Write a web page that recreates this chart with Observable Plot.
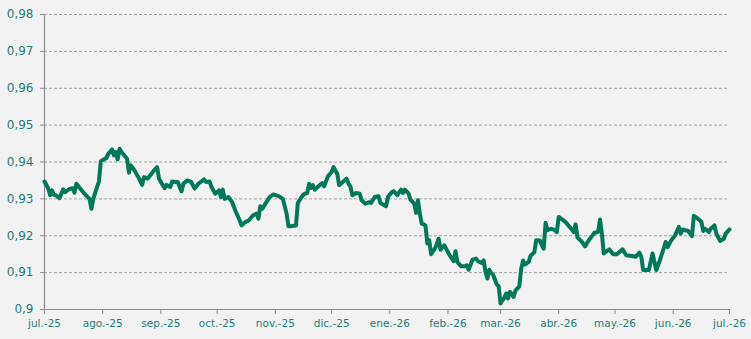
<!DOCTYPE html>
<html>
<head>
<meta charset="utf-8">
<script src="https://cdn.jsdelivr.net/npm/d3@7"></script>
<script src="https://cdn.jsdelivr.net/npm/@observablehq/plot@0.6"></script>
<style>
  html, body { margin: 0; padding: 0; background: #f2f2f2; }
  #chart svg { display: block; }
</style>
</head>
<body>
<div id="chart"></div>
<script>
const dates = [
  "2025-07-01","2025-07-03","2025-07-04","2025-07-05","2025-07-06","2025-07-07","2025-07-09","2025-07-11","2025-07-12","2025-07-14",
  "2025-07-16","2025-07-17","2025-07-18","2025-07-20","2025-07-23","2025-07-25","2025-07-26","2025-07-27","2025-07-29","2025-07-30",
  "2025-07-31","2025-08-03","2025-08-04","2025-08-06","2025-08-07","2025-08-08","2025-08-09","2025-08-10","2025-08-11","2025-08-14",
  "2025-08-15","2025-08-16","2025-08-18","2025-08-20","2025-08-22","2025-08-23","2025-08-25","2025-08-27","2025-08-28","2025-08-30",
  "2025-08-31","2025-09-01","2025-09-03","2025-09-04","2025-09-06","2025-09-07","2025-09-09","2025-09-10","2025-09-12","2025-09-13",
  "2025-09-15","2025-09-17","2025-09-19","2025-09-21","2025-09-24","2025-09-25","2025-09-27","2025-09-28","2025-09-30","2025-10-02",
  "2025-10-03","2025-10-04","2025-10-05","2025-10-07","2025-10-09","2025-10-11","2025-10-13","2025-10-14","2025-10-16","2025-10-18",
  "2025-10-20","2025-10-22","2025-10-23","2025-10-24","2025-10-25","2025-10-27","2025-10-29","2025-10-31","2025-11-03","2025-11-05",
  "2025-11-07","2025-11-08","2025-11-09","2025-11-12","2025-11-13","2025-11-15","2025-11-16","2025-11-18","2025-11-19","2025-11-20",
  "2025-11-21","2025-11-22","2025-11-24","2025-11-26","2025-11-27","2025-11-29","2025-12-01","2025-12-02","2025-12-04","2025-12-05",
  "2025-12-07","2025-12-09","2025-12-10","2025-12-11","2025-12-12","2025-12-14","2025-12-16","2025-12-17","2025-12-19","2025-12-21",
  "2025-12-22","2025-12-24","2025-12-26","2025-12-27","2025-12-30","2025-12-31","2026-01-02","2026-01-03","2026-01-05","2026-01-07",
  "2026-01-08","2026-01-09","2026-01-11","2026-01-12","2026-01-14","2026-01-15","2026-01-16","2026-01-17","2026-01-18","2026-01-19",
  "2026-01-20","2026-01-21","2026-01-22","2026-01-23","2026-01-25","2026-01-26","2026-01-27","2026-01-28","2026-01-30","2026-01-31",
  "2026-02-02","2026-02-04","2026-02-05","2026-02-06","2026-02-08","2026-02-10","2026-02-11","2026-02-12","2026-02-14","2026-02-16",
  "2026-02-17","2026-02-19","2026-02-20","2026-02-21","2026-02-22","2026-02-23","2026-02-24","2026-02-25","2026-02-27","2026-02-28",
  "2026-03-01","2026-03-02","2026-03-03","2026-03-04","2026-03-05","2026-03-06","2026-03-08","2026-03-09","2026-03-11","2026-03-12",
  "2026-03-13","2026-03-14","2026-03-16","2026-03-17","2026-03-19","2026-03-20","2026-03-22","2026-03-23","2026-03-24","2026-03-25",
  "2026-03-26","2026-03-28","2026-03-30","2026-03-31","2026-04-01","2026-04-03","2026-04-05","2026-04-08","2026-04-09","2026-04-10",
  "2026-04-11","2026-04-13","2026-04-15","2026-04-17","2026-04-19","2026-04-20","2026-04-22","2026-04-23","2026-04-24","2026-04-25",
  "2026-04-26","2026-04-28","2026-04-30","2026-05-02","2026-05-05","2026-05-07","2026-05-10","2026-05-12","2026-05-14","2026-05-15",
  "2026-05-16","2026-05-19","2026-05-21","2026-05-22","2026-05-23","2026-05-25","2026-05-28","2026-05-29","2026-05-31","2026-06-02",
  "2026-06-04","2026-06-05","2026-06-06","2026-06-09","2026-06-11","2026-06-12","2026-06-14","2026-06-16","2026-06-17","2026-06-18",
  "2026-06-20","2026-06-21","2026-06-23","2026-06-24","2026-06-26","2026-06-28","2026-06-29","2026-07-01"
];
const values = [
  0.9347,0.9328,0.9310,0.9323,0.9311,0.9310,0.9302,0.9326,0.9318,0.9326,
  0.9329,0.9317,0.9341,0.9328,0.9310,0.9300,0.9273,0.9300,0.9332,0.9347,
  0.9402,0.9411,0.9422,0.9434,0.9418,0.9427,0.9407,0.9436,0.9427,0.9409,
  0.9371,0.9391,0.9377,0.9359,0.9338,0.9359,0.9355,0.9368,0.9375,0.9386,
  0.9355,0.9346,0.9329,0.9338,0.9332,0.9347,0.9346,0.9346,0.9320,0.9341,
  0.9350,0.9347,0.9328,0.9341,0.9353,0.9346,0.9347,0.9332,0.9314,0.9323,
  0.9305,0.9325,0.9300,0.9305,0.9291,0.9264,0.9242,0.9228,0.9237,0.9242,
  0.9255,0.9260,0.9246,0.9280,0.9273,0.9289,0.9305,0.9312,0.9307,0.9300,
  0.9260,0.9226,0.9226,0.9228,0.9289,0.9305,0.9312,0.9316,0.9341,0.9330,
  0.9337,0.9325,0.9334,0.9343,0.9334,0.9361,0.9373,0.9386,0.9368,0.9337,
  0.9346,0.9355,0.9341,0.9334,0.9310,0.9316,0.9314,0.9296,0.9287,0.9291,
  0.9289,0.9305,0.9307,0.9289,0.9280,0.9305,0.9318,0.9321,0.9310,0.9325,
  0.9316,0.9325,0.9314,0.9298,0.9287,0.9262,0.9296,0.9260,0.9233,0.9231,
  0.9228,0.9179,0.9188,0.9150,0.9165,0.9177,0.9192,0.9162,0.9174,0.9165,
  0.9146,0.9131,0.9158,0.9129,0.9117,0.9117,0.9120,0.9108,0.9135,0.9138,
  0.9131,0.9126,0.9133,0.9102,0.9084,0.9108,0.9099,0.9095,0.9068,0.9063,
  0.9016,0.9025,0.9032,0.9043,0.9030,0.9048,0.9034,0.9052,0.9063,0.9110,
  0.9133,0.9122,0.9129,0.9146,0.9155,0.9188,0.9187,0.9174,0.9165,0.9235,
  0.9215,0.9219,0.9215,0.9210,0.9251,0.9244,0.9235,0.9217,0.9210,0.9231,
  0.9195,0.9186,0.9171,0.9188,0.9201,0.9208,0.9210,0.9244,0.9206,0.9152,
  0.9156,0.9163,0.9150,0.9150,0.9163,0.9147,0.9145,0.9143,0.9154,0.9143,
  0.9107,0.9107,0.9152,0.9129,0.9107,0.9135,0.9183,0.9169,0.9188,0.9201,
  0.9224,0.9206,0.9217,0.9213,0.9199,0.9254,0.9247,0.9238,0.9213,0.9219,
  0.9210,0.9219,0.9228,0.9206,0.9186,0.9192,0.9206,0.9217
];
const yTicks = [0.90, 0.91, 0.92, 0.93, 0.94, 0.95, 0.96, 0.97, 0.98];
const yTickLabels = ["0,9", "0,91", "0,92", "0,93", "0,94", "0,95", "0,96", "0,97", "0,98"];
const xTicks = ["2025-07-01","2025-08-01","2025-09-01","2025-10-01","2025-11-01","2025-12-01",
  "2026-01-01","2026-02-01","2026-03-01","2026-04-01","2026-05-01","2026-06-01","2026-07-01"];
const xTickLabels = ["jul.-25","ago.-25","sep.-25","oct.-25","nov.-25","dic.-25",
  "ene.-26","feb.-26","mar.-26","abr.-26","may.-26","jun.-26","jul.-26"];

const data = dates.map((d, i) => ({date: new Date(d), value: values[i]}));
const xTickDates = xTicks.map(d => new Date(d));
const textColor = "#1f7d78";
const axisColor = "#8c8c8c";

const chart = Plot.plot({
  width: 751,
  height: 339,
  marginLeft: 44,
  marginRight: 22,
  marginTop: 14,
  marginBottom: 30,
  style: {background: "#f2f2f2", fontFamily: "DejaVu Sans", color: textColor, overflow: "visible"},
  x: {type: "utc", domain: [xTickDates[0], xTickDates[xTickDates.length - 1]]},
  y: {domain: [0.9, 0.98]},
  marks: [
    Plot.ruleY(yTicks.slice(1), {stroke: "#a0a0a0", strokeDasharray: "3,2", strokeWidth: 1}),
    Plot.ruleY([yTicks[0]], {stroke: axisColor, strokeWidth: 1.2}),
    Plot.ruleX([xTickDates[0]], {stroke: axisColor, strokeWidth: 1.2}),
    Plot.axisY(yTicks, {
      tickFormat: d => yTickLabels[yTicks.indexOf(d)],
      tickSize: 4, tickPadding: 7, stroke: axisColor, fill: textColor,
      fontSize: 12, label: null
    }),
    Plot.axisX(xTickDates, {
      tickFormat: d => xTickLabels[xTickDates.findIndex(t => +t === +d)],
      tickSize: 5, tickPadding: 5, stroke: axisColor, fill: textColor,
      fontSize: 10.5, label: null
    }),
    Plot.line(data, {x: "date", y: "value", stroke: "#00785a", strokeWidth: 4, strokeLinejoin: "round", strokeLinecap: "round"})
  ]
});
document.getElementById("chart").append(chart);
</script>
</body>
</html>
